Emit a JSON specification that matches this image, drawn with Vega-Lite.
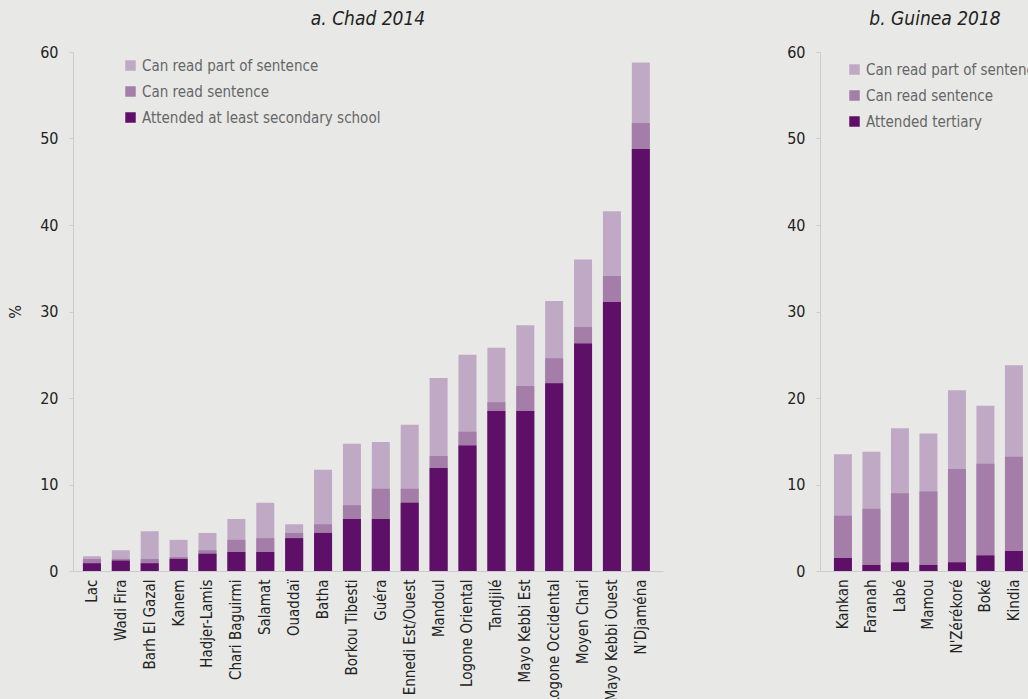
{
  "$schema": "https://vega.github.io/schema/vega-lite/v6.json",
  "background": "#e8e9e6",
  "padding": {"left": 7, "top": 10, "right": 0, "bottom": 0},
  "bounds": "flush",
  "spacing": 157,
  "config": {
    "font": "DejaVu Sans Condensed, Roboto, sans-serif",
    "view": {"stroke": null},
    "axis": {"grid": false, "domainColor": "#cccccc", "tickColor": "#cccccc", "labelColor": "#222222", "labelFontSize": 16, "titleFontWeight": "normal", "titleColor": "#222222", "titleFontSize": 16},
    "title": {"fontSize": 19, "fontStyle": "italic", "fontWeight": "normal", "color": "#222222", "offset": 15},
    "legend": {"orient": "none", "symbolType": "square", "symbolSize": 110, "symbolStrokeWidth": 0, "symbolOpacity": 1, "labelFontSize": 15, "labelColor": "#666666", "labelLimit": 400, "rowPadding": 10, "title": null}
  },
  "datasets": {
    "chad": [
      {"region": "Lac", "group": "Can read part of sentence", "value": 1.7},
      {"region": "Lac", "group": "Can read sentence", "value": 1.4},
      {"region": "Lac", "group": "Attended at least secondary school", "value": 0.9},
      {"region": "Wadi Fira", "group": "Can read part of sentence", "value": 2.4},
      {"region": "Wadi Fira", "group": "Can read sentence", "value": 1.4},
      {"region": "Wadi Fira", "group": "Attended at least secondary school", "value": 1.2},
      {"region": "Barh El Gazal", "group": "Can read part of sentence", "value": 4.6},
      {"region": "Barh El Gazal", "group": "Can read sentence", "value": 1.4},
      {"region": "Barh El Gazal", "group": "Attended at least secondary school", "value": 0.9},
      {"region": "Kanem", "group": "Can read part of sentence", "value": 3.6},
      {"region": "Kanem", "group": "Can read sentence", "value": 1.6},
      {"region": "Kanem", "group": "Attended at least secondary school", "value": 1.4},
      {"region": "Hadjer-Lamis", "group": "Can read part of sentence", "value": 4.4},
      {"region": "Hadjer-Lamis", "group": "Can read sentence", "value": 2.4},
      {"region": "Hadjer-Lamis", "group": "Attended at least secondary school", "value": 2.0},
      {"region": "Chari Baguirmi", "group": "Can read part of sentence", "value": 6.0},
      {"region": "Chari Baguirmi", "group": "Can read sentence", "value": 3.6},
      {"region": "Chari Baguirmi", "group": "Attended at least secondary school", "value": 2.2},
      {"region": "Salamat", "group": "Can read part of sentence", "value": 7.9},
      {"region": "Salamat", "group": "Can read sentence", "value": 3.8},
      {"region": "Salamat", "group": "Attended at least secondary school", "value": 2.2},
      {"region": "Ouaddaï", "group": "Can read part of sentence", "value": 5.4},
      {"region": "Ouaddaï", "group": "Can read sentence", "value": 4.4},
      {"region": "Ouaddaï", "group": "Attended at least secondary school", "value": 3.8},
      {"region": "Batha", "group": "Can read part of sentence", "value": 11.7},
      {"region": "Batha", "group": "Can read sentence", "value": 5.4},
      {"region": "Batha", "group": "Attended at least secondary school", "value": 4.4},
      {"region": "Borkou Tibesti", "group": "Can read part of sentence", "value": 14.7},
      {"region": "Borkou Tibesti", "group": "Can read sentence", "value": 7.6},
      {"region": "Borkou Tibesti", "group": "Attended at least secondary school", "value": 6.0},
      {"region": "Guéra", "group": "Can read part of sentence", "value": 14.9},
      {"region": "Guéra", "group": "Can read sentence", "value": 9.5},
      {"region": "Guéra", "group": "Attended at least secondary school", "value": 6.0},
      {"region": "Ennedi Est/Ouest", "group": "Can read part of sentence", "value": 16.9},
      {"region": "Ennedi Est/Ouest", "group": "Can read sentence", "value": 9.5},
      {"region": "Ennedi Est/Ouest", "group": "Attended at least secondary school", "value": 7.9},
      {"region": "Mandoul", "group": "Can read part of sentence", "value": 22.3},
      {"region": "Mandoul", "group": "Can read sentence", "value": 13.3},
      {"region": "Mandoul", "group": "Attended at least secondary school", "value": 11.9},
      {"region": "Logone Oriental", "group": "Can read part of sentence", "value": 25.0},
      {"region": "Logone Oriental", "group": "Can read sentence", "value": 16.1},
      {"region": "Logone Oriental", "group": "Attended at least secondary school", "value": 14.5},
      {"region": "Tandjilé", "group": "Can read part of sentence", "value": 25.8},
      {"region": "Tandjilé", "group": "Can read sentence", "value": 19.5},
      {"region": "Tandjilé", "group": "Attended at least secondary school", "value": 18.5},
      {"region": "Mayo Kebbi Est", "group": "Can read part of sentence", "value": 28.4},
      {"region": "Mayo Kebbi Est", "group": "Can read sentence", "value": 21.4},
      {"region": "Mayo Kebbi Est", "group": "Attended at least secondary school", "value": 18.5},
      {"region": "Logone Occidental", "group": "Can read part of sentence", "value": 31.2},
      {"region": "Logone Occidental", "group": "Can read sentence", "value": 24.6},
      {"region": "Logone Occidental", "group": "Attended at least secondary school", "value": 21.7},
      {"region": "Moyen Chari", "group": "Can read part of sentence", "value": 36.0},
      {"region": "Moyen Chari", "group": "Can read sentence", "value": 28.2},
      {"region": "Moyen Chari", "group": "Attended at least secondary school", "value": 26.3},
      {"region": "Mayo Kebbi Ouest", "group": "Can read part of sentence", "value": 41.6},
      {"region": "Mayo Kebbi Ouest", "group": "Can read sentence", "value": 34.1},
      {"region": "Mayo Kebbi Ouest", "group": "Attended at least secondary school", "value": 31.1},
      {"region": "N’Djaména", "group": "Can read part of sentence", "value": 58.8},
      {"region": "N’Djaména", "group": "Can read sentence", "value": 51.8},
      {"region": "N’Djaména", "group": "Attended at least secondary school", "value": 48.8}
    ],
    "guinea": [
      {"region": "Kankan", "group": "Can read part of sentence", "value": 13.5},
      {"region": "Kankan", "group": "Can read sentence", "value": 6.4},
      {"region": "Kankan", "group": "Attended tertiary", "value": 1.5},
      {"region": "Faranah", "group": "Can read part of sentence", "value": 13.8},
      {"region": "Faranah", "group": "Can read sentence", "value": 7.2},
      {"region": "Faranah", "group": "Attended tertiary", "value": 0.7},
      {"region": "Labé", "group": "Can read part of sentence", "value": 16.5},
      {"region": "Labé", "group": "Can read sentence", "value": 9.0},
      {"region": "Labé", "group": "Attended tertiary", "value": 1.0},
      {"region": "Mamou", "group": "Can read part of sentence", "value": 15.9},
      {"region": "Mamou", "group": "Can read sentence", "value": 9.2},
      {"region": "Mamou", "group": "Attended tertiary", "value": 0.7},
      {"region": "N'Zérékoré", "group": "Can read part of sentence", "value": 20.9},
      {"region": "N'Zérékoré", "group": "Can read sentence", "value": 11.8},
      {"region": "N'Zérékoré", "group": "Attended tertiary", "value": 1.0},
      {"region": "Boké", "group": "Can read part of sentence", "value": 19.1},
      {"region": "Boké", "group": "Can read sentence", "value": 12.4},
      {"region": "Boké", "group": "Attended tertiary", "value": 1.8},
      {"region": "Kindia", "group": "Can read part of sentence", "value": 23.8},
      {"region": "Kindia", "group": "Can read sentence", "value": 13.2},
      {"region": "Kindia", "group": "Attended tertiary", "value": 2.3}
    ]
  },
  "resolve": {"scale": {"color": "independent", "y": "independent", "x": "independent"}},
  "hconcat": [
    {
      "title": "a. Chad 2014",
      "width": 590,
      "height": 519,
      "data": {"name": "chad"},
      "mark": {"type": "bar"},
      "encoding": {
        "x": {"field": "region", "type": "nominal", "sort": null,
              "scale": {"paddingInner": 0.377, "paddingOuter": 0.4, "align": 0.43},
              "axis": {"title": null, "labelAngle": -90, "ticks": false, "labelPadding": 8, "labelFontSize": 15}},
        "y": {"field": "value", "type": "quantitative", "stack": null,
              "scale": {"domain": [0, 60], "nice": false},
              "axis": {"title": "%", "values": [0, 10, 20, 30, 40, 50, 60], "tickSize": 4, "labelPadding": 11, "titlePadding": 16}},
        "color": {"field": "group", "type": "nominal",
                  "scale": {"domain": ["Can read part of sentence", "Can read sentence", "Attended at least secondary school"], "range": ["#bfa9c4", "#a47ea9", "#5e0f68"]},
                  "legend": {"legendX": 50, "legendY": 6}}
      }
    },
    {
      "title": "b. Guinea 2018",
      "width": 230,
      "height": 519,
      "data": {"name": "guinea"},
      "mark": {"type": "bar"},
      "encoding": {
        "x": {"field": "region", "type": "nominal", "sort": null,
              "scale": {"paddingInner": 0.37, "paddingOuter": 0.72, "align": 0.34},
              "axis": {"title": null, "labelAngle": -90, "ticks": false, "labelPadding": 8, "labelFontSize": 15}},
        "y": {"field": "value", "type": "quantitative", "stack": null,
              "scale": {"domain": [0, 60], "nice": false},
              "axis": {"title": null, "values": [0, 10, 20, 30, 40, 50, 60], "tickSize": 4, "labelPadding": 11}},
        "color": {"field": "group", "type": "nominal",
                  "scale": {"domain": ["Can read part of sentence", "Can read sentence", "Attended tertiary"], "range": ["#bfa9c4", "#a47ea9", "#5e0f68"]},
                  "legend": {"legendX": 27, "legendY": 10}}
      }
    }
  ]
}
